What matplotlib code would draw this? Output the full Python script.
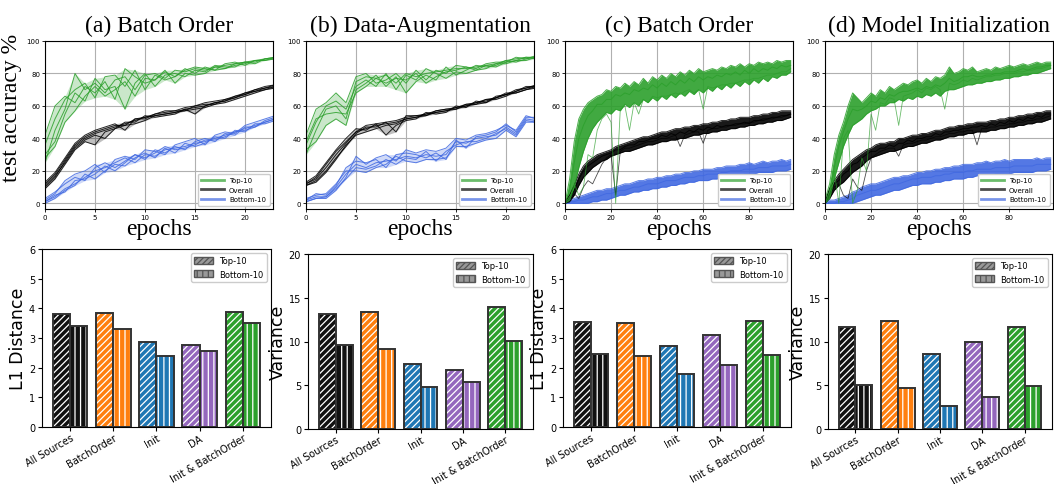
import numpy as np
import matplotlib
matplotlib.use("Agg")
import matplotlib.pyplot as plt
from matplotlib.lines import Line2D
from matplotlib.patches import Patch

# ---- top row: test accuracy curves ----
epochs_short = list(range(24))
epochs_long = list(range(0, 100, 2))

a_top = [
    [25, 45, 58, 80, 70, 74, 68, 76, 78, 70, 79, 80, 77, 82, 81, 83, 82, 84, 85, 86, 87, 88, 89, 90],
    [42, 60, 66, 62, 72, 68, 75, 64, 83, 78, 74, 76, 81, 78, 83, 80, 84, 82, 83, 85, 86, 88, 88, 89],
    [30, 38, 55, 68, 63, 77, 70, 72, 58, 74, 80, 72, 79, 80, 78, 82, 81, 85, 84, 84, 87, 87, 89, 90],
    [36, 52, 64, 70, 74, 65, 78, 79, 72, 82, 70, 79, 76, 78, 82, 84, 83, 82, 86, 87, 85, 88, 88, 90],
    [28, 35, 50, 57, 66, 72, 66, 70, 75, 66, 77, 76, 82, 74, 80, 79, 80, 84, 83, 86, 87, 86, 89, 89],
]
a_all = [
    [10, 16, 26, 35, 40, 43, 45, 47, 49, 51, 53, 54, 55, 56, 58, 59, 60, 62, 63, 65, 67, 69, 71, 72],
    [12, 18, 27, 36, 41, 44, 46, 48, 48, 52, 52, 55, 56, 57, 57, 60, 61, 61, 64, 65, 68, 69, 70, 72],
    [9, 15, 24, 33, 38, 36, 44, 46, 50, 50, 54, 53, 54, 55, 58, 55, 60, 62, 63, 66, 67, 70, 71, 73],
    [13, 19, 28, 37, 42, 45, 47, 49, 45, 52, 53, 55, 57, 57, 59, 60, 62, 63, 64, 66, 68, 70, 72, 73],
    [11, 17, 25, 34, 39, 42, 40, 46, 48, 49, 51, 54, 55, 56, 57, 58, 59, 61, 62, 64, 66, 68, 70, 71],
]
a_bottom = [
    [1, 4, 9, 12, 16, 20, 22, 25, 28, 25, 30, 29, 33, 34, 35, 37, 38, 40, 42, 44, 46, 48, 50, 52],
    [3, 7, 12, 16, 14, 22, 25, 22, 26, 30, 27, 33, 31, 35, 33, 38, 40, 38, 43, 42, 47, 47, 51, 53],
    [0, 3, 8, 11, 18, 15, 20, 24, 23, 28, 31, 28, 34, 31, 37, 35, 37, 41, 40, 45, 44, 49, 49, 51],
    [2, 6, 14, 18, 20, 24, 19, 27, 29, 27, 33, 32, 30, 36, 38, 40, 36, 42, 44, 43, 48, 50, 52, 54],
    [1, 5, 7, 14, 15, 18, 23, 20, 25, 30, 28, 31, 35, 33, 34, 36, 39, 39, 41, 44, 45, 47, 50, 52],
]

b_top = [
    [30, 45, 58, 60, 52, 75, 78, 77, 79, 74, 80, 78, 80, 81, 82, 83, 83, 84, 85, 86, 88, 89, 90, 90],
    [42, 58, 62, 68, 62, 78, 80, 74, 76, 80, 74, 82, 76, 82, 80, 85, 84, 83, 86, 87, 87, 90, 89, 91],
    [33, 38, 48, 52, 48, 70, 74, 79, 72, 78, 68, 75, 79, 76, 84, 79, 82, 85, 84, 85, 88, 87, 89, 90],
    [36, 50, 60, 63, 58, 72, 76, 72, 80, 70, 79, 76, 83, 80, 77, 81, 80, 82, 83, 86, 86, 88, 90, 89],
    [38, 52, 55, 56, 55, 68, 72, 77, 74, 77, 76, 80, 74, 78, 81, 82, 84, 82, 85, 84, 87, 88, 88, 90],
]
b_all = [
    [12, 15, 22, 30, 37, 44, 46, 48, 49, 50, 52, 53, 55, 56, 57, 59, 60, 62, 63, 65, 67, 69, 71, 72],
    [11, 14, 20, 28, 35, 43, 47, 47, 50, 51, 53, 54, 54, 57, 58, 58, 61, 61, 64, 65, 68, 68, 70, 72],
    [13, 17, 25, 33, 40, 46, 45, 49, 42, 48, 51, 52, 56, 55, 56, 60, 59, 63, 62, 66, 67, 70, 71, 73],
    [12, 16, 24, 32, 38, 44, 48, 49, 50, 44, 54, 54, 55, 57, 58, 59, 61, 62, 64, 64, 66, 69, 72, 72],
    [11, 13, 19, 27, 36, 42, 44, 46, 48, 49, 52, 53, 54, 56, 57, 58, 60, 61, 62, 65, 67, 68, 70, 71],
]
b_bottom = [
    [2, 4, 4, 10, 18, 24, 22, 25, 26, 27, 29, 28, 30, 29, 30, 38, 37, 40, 41, 42, 47, 43, 52, 51],
    [1, 3, 3, 8, 16, 29, 24, 28, 30, 26, 33, 31, 33, 32, 34, 40, 39, 42, 43, 45, 48, 45, 54, 52],
    [3, 5, 6, 12, 20, 20, 19, 22, 24, 29, 26, 25, 27, 27, 28, 35, 35, 37, 39, 40, 45, 41, 50, 50],
    [2, 6, 5, 11, 22, 26, 25, 27, 22, 30, 31, 30, 28, 31, 27, 39, 34, 41, 42, 44, 49, 44, 53, 53],
    [1, 3, 4, 9, 15, 22, 21, 23, 27, 24, 28, 27, 32, 26, 32, 36, 38, 38, 40, 43, 46, 42, 51, 50],
]

c_top = [
    [0, 15, 38, 52, 58, 62, 64, 66, 67, 70, 69, 72, 71, 74, 72, 75, 73, 77, 74, 78, 76, 79, 77, 80, 78,
     81, 79, 82, 80, 83, 81, 82, 83, 82, 84, 83, 85, 84, 86, 84, 86, 85, 87, 86, 87, 86, 88, 87, 88, 88],
    [0, 8, 25, 40, 48, 54, 57, 61, 61, 64, 64, 67, 66, 68, 67, 70, 69, 71, 70, 73, 71, 74, 72, 75, 73,
     76, 74, 77, 75, 78, 76, 78, 77, 79, 78, 80, 79, 81, 79, 82, 80, 83, 81, 83, 82, 84, 83, 85, 84, 85],
    [0, 2, 10, 22, 32, 40, 46, 50, 53, 56, 55, 58, 57, 61, 59, 62, 60, 64, 62, 65, 63, 66, 64, 67, 65,
     68, 66, 69, 67, 70, 68, 71, 69, 72, 70, 73, 71, 74, 72, 75, 73, 76, 74, 77, 75, 78, 77, 79, 79, 81],
]
c_top_dip = [0, 3, 12, 5, 10, 30, 28, 45, 52, 55, 50, 0, 58, 60, 45, 62, 55, 64, 62, 66, 65, 66, 66, 67, 68,
             67, 69, 70, 68, 70, 58, 72, 71, 72, 73, 73, 74, 74, 75, 76, 76, 77, 77, 78, 79, 79, 80, 81, 81, 83]
c_all = [
    [1, 5, 11, 18, 23, 26, 28, 30, 31, 32, 33, 35, 36, 37, 38, 39, 40, 41, 41, 42, 43, 44, 44, 45, 46,
     46, 47, 47, 48, 48, 49, 49, 50, 50, 51, 51, 52, 52, 53, 53, 53, 54, 54, 55, 55, 56, 56, 57, 57, 57],
    [0, 3, 8, 15, 20, 23, 25, 27, 29, 30, 31, 33, 33, 35, 36, 36, 38, 38, 39, 40, 40, 42, 41, 43, 42,
     44, 43, 45, 44, 46, 45, 47, 46, 48, 47, 48, 48, 49, 49, 50, 49, 51, 51, 52, 52, 53, 53, 54, 54, 55],
    [0, 1, 5, 11, 16, 19, 22, 24, 26, 27, 29, 30, 31, 32, 32, 33, 34, 35, 36, 36, 37, 38, 38, 39, 39,
     40, 40, 41, 42, 42, 43, 43, 44, 44, 45, 45, 46, 46, 47, 47, 48, 48, 49, 49, 50, 50, 51, 51, 52, 53],
]
c_all_dip = [0, 2, 6, 3, 10, 14, 12, 18, 24, 28, 30, 5, 32, 34, 34, 35, 36, 37, 38, 38, 39, 40, 40, 41, 42,
             35, 42, 43, 44, 44, 37, 45, 46, 46, 47, 47, 48, 48, 49, 49, 50, 50, 51, 51, 52, 52, 53, 53, 54, 55]
c_bottom = [
    [1, 2, 3, 4, 5, 6, 7, 8, 8, 9, 9, 10, 11, 12, 12, 13, 14, 14, 15, 15, 16, 16, 17, 17, 18,
     18, 19, 19, 20, 20, 21, 21, 21, 22, 22, 23, 23, 23, 24, 24, 25, 24, 25, 26, 25, 26, 26, 27, 26, 27],
    [0, 1, 1, 2, 2, 3, 4, 4, 5, 6, 6, 7, 8, 8, 9, 10, 10, 11, 12, 12, 12, 13, 14, 14, 14,
     15, 16, 16, 16, 17, 17, 18, 18, 18, 19, 19, 20, 20, 20, 21, 21, 21, 22, 22, 22, 23, 23, 23, 23, 24],
    [0, 0, 0, 0, 0, 0, 1, 1, 2, 2, 3, 4, 5, 5, 6, 7, 7, 8, 8, 9, 9, 10, 10, 11, 11,
     12, 12, 13, 13, 14, 14, 14, 15, 15, 16, 16, 17, 17, 17, 18, 18, 18, 19, 19, 19, 19, 20, 20, 20, 21],
]

d_top = [
    [2, 12, 30, 42, 50, 60, 68, 65, 62, 65, 68, 66, 70, 68, 72, 70, 72, 74, 73, 75, 76, 74, 77, 75, 78,
     77, 79, 84, 80, 81, 83, 82, 84, 81, 82, 83, 82, 84, 83, 84, 85, 84, 85, 86, 85, 86, 87, 86, 87, 87],
    [0, 7, 22, 35, 44, 52, 58, 57, 58, 60, 63, 62, 65, 64, 67, 66, 68, 69, 69, 70, 71, 70, 72, 71, 73,
     72, 74, 77, 75, 76, 78, 78, 79, 78, 78, 79, 79, 80, 80, 81, 81, 81, 82, 83, 82, 83, 84, 84, 85, 85],
    [0, 3, 15, 25, 35, 42, 48, 50, 52, 55, 57, 58, 60, 60, 62, 62, 64, 63, 65, 64, 66, 65, 67, 66, 68,
     66, 69, 70, 70, 71, 72, 73, 73, 74, 74, 75, 75, 76, 76, 77, 77, 78, 78, 79, 79, 80, 80, 81, 82, 83],
]
d_top_dip = [0, 5, 20, 0, 40, 45, 0, 8, 28, 20, 55, 45, 62, 61, 65, 64, 48, 66, 67, 68, 70, 68, 71, 70, 72,
             70, 58, 74, 73, 74, 76, 75, 77, 76, 77, 78, 78, 79, 79, 80, 80, 80, 81, 81, 82, 82, 83, 83, 84, 85]
d_all = [
    [1, 9, 14, 18, 21, 24, 27, 29, 31, 33, 34, 36, 37, 37, 38, 38, 40, 40, 41, 42, 42, 43, 43, 44, 45,
     45, 46, 47, 47, 48, 48, 49, 49, 50, 50, 50, 51, 51, 52, 52, 53, 53, 54, 54, 55, 55, 56, 56, 57, 57],
    [0, 6, 12, 14, 18, 20, 24, 25, 28, 30, 32, 32, 34, 34, 36, 35, 37, 37, 39, 38, 40, 40, 41, 41, 43,
     42, 44, 44, 45, 45, 46, 46, 47, 47, 48, 47, 49, 48, 50, 49, 51, 50, 52, 51, 53, 52, 54, 53, 55, 55],
    [0, 3, 8, 11, 13, 16, 19, 21, 23, 26, 28, 29, 30, 31, 32, 32, 33, 34, 35, 35, 36, 37, 37, 38, 39,
     39, 40, 41, 41, 42, 42, 43, 43, 44, 44, 44, 45, 45, 46, 46, 47, 47, 48, 48, 49, 49, 50, 50, 51, 52],
]
d_all_dip = [0, 5, 10, 12, 5, 3, 15, 10, 8, 20, 28, 30, 32, 33, 34, 34, 29, 36, 37, 37, 38, 39, 39, 40, 41,
             41, 42, 43, 43, 44, 44, 45, 45, 36, 46, 46, 47, 47, 48, 48, 49, 49, 50, 50, 51, 51, 52, 52, 53, 54]
d_bottom = [
    [1, 2, 2, 3, 4, 5, 7, 8, 10, 11, 12, 12, 13, 14, 15, 16, 16, 17, 17, 18, 19, 19, 20, 20, 21,
     21, 22, 22, 23, 23, 24, 24, 24, 25, 25, 26, 25, 26, 26, 27, 26, 27, 27, 27, 27, 27, 28, 27, 28, 28],
    [0, 0, 0, 1, 1, 2, 3, 5, 6, 7, 8, 8, 9, 10, 11, 12, 12, 13, 14, 15, 15, 16, 16, 16, 17,
     17, 18, 18, 19, 19, 19, 20, 20, 21, 21, 21, 21, 22, 22, 22, 22, 23, 23, 23, 23, 23, 24, 24, 24, 24],
    [0, 0, 0, 0, 0, 0, 0, 1, 2, 3, 4, 5, 5, 6, 7, 8, 8, 9, 10, 11, 11, 12, 12, 12, 13,
     13, 14, 14, 15, 15, 15, 16, 16, 17, 17, 17, 17, 18, 18, 18, 18, 19, 19, 19, 19, 19, 20, 20, 20, 21],
]

# ---- bottom row: bar charts ----
sources = ["All Sources", "BatchOrder", "Init", "DA", "Init & BatchOrder"]
a_l1_top = [3.80, 3.85, 2.85, 2.76, 3.88]
a_l1_bottom = [3.40, 3.32, 2.40, 2.55, 3.50]
b_var_top = [13.1, 13.4, 7.4, 6.8, 13.9]
b_var_bottom = [9.6, 9.2, 4.8, 5.4, 10.1]
c_l1_top = [3.55, 3.52, 2.72, 3.10, 3.57]
c_l1_bottom = [2.47, 2.40, 1.77, 2.10, 2.43]
d_var_top = [11.7, 12.3, 8.6, 10.0, 11.7]
d_var_bottom = [5.0, 4.7, 2.6, 3.7, 4.9]

titles = ["(a) Batch Order", "(b) Data-Augmentation", "(c) Batch Order", "(d) Model Initialization"]

GREEN = "#2ca02c"
BLUE = "#4169e1"
BLACK = "black"
bar_colors = ["#111111", "#ff7f0e", "#1f77b4", "#9467bd", "#2ca02c"]
SERIF = ["Liberation Serif", "DejaVu Serif"]

W, H = 1054, 485
fig = plt.figure(figsize=(W / 100, H / 100), dpi=100)
plt.rcParams["hatch.linewidth"] = 0.9


def px_axes(left, top, width, height):
    return fig.add_axes([left / W, 1 - (top + height) / H, width / W, height / H])


def curves(ax, x, runs, color, dip=None, fill_alpha=0.35):
    arr = np.array(runs, dtype=float)
    ax.fill_between(x, arr.min(axis=0), arr.max(axis=0), color=color, alpha=fill_alpha, lw=0)
    for r in runs:
        ax.plot(x, r, color=color, lw=0.7, alpha=0.85)
    if dip is not None:
        ax.plot(x, dip, color=color, lw=0.6, alpha=0.7)


top_data = [
    (epochs_short, a_top, a_all, a_bottom, None, None),
    (epochs_short, b_top, b_all, b_bottom, None, None),
    (epochs_long, c_top, c_all, c_bottom, c_top_dip, c_all_dip),
    (epochs_long, d_top, d_all, d_bottom, d_top_dip, d_all_dip),
]
top_lefts = [45, 306, 565, 825]

for i, (x, top, allr, bot, tdip, adip) in enumerate(top_data):
    ax = px_axes(top_lefts[i], 42, 228, 168)
    dense = x is epochs_long
    fa = 0.9 if dense else 0.25
    curves(ax, x, bot, BLUE, fill_alpha=fa)
    curves(ax, x, allr, BLACK, adip, fill_alpha=fa)
    curves(ax, x, top, GREEN, tdip, fill_alpha=fa)
    ax.set_xlim(0, 99 if dense else 22.8)
    ax.set_ylim(-3.5, 100)
    ax.set_yticks([0, 20, 40, 60, 80, 100])
    ax.set_xticks([0, 20, 40, 60, 80] if dense else [0, 5, 10, 15, 20])
    ax.grid(True, color="#b0b0b0", lw=0.8)
    ax.set_axisbelow(True)
    ax.tick_params(labelsize=5, length=2, width=0.6, pad=1.5)
    ax.set_title(titles[i], family=SERIF, fontsize=17, pad=7)
    ax.set_xlabel("epochs", family=SERIF, fontsize=17, labelpad=-1)
    if i == 0:
        ax.set_ylabel("test accuracy %", family=SERIF, fontsize=17)
        ax.yaxis.set_label_coords(-0.1, 0.61)
    handles = [Line2D([], [], color=GREEN, lw=2, alpha=0.7),
               Line2D([], [], color=BLACK, lw=2, alpha=0.7),
               Line2D([], [], color=BLUE, lw=2, alpha=0.7)]
    ax.legend(handles, ["Top-10", "Overall", "Bottom-10"], loc="lower right",
              fontsize=5, handlelength=3.2, framealpha=1, borderpad=0.5,
              labelspacing=0.5)

bar_data = [
    (a_l1_top, a_l1_bottom, "L1 Distance", 6, 1),
    (b_var_top, b_var_bottom, "Variance", 20, 5),
    (c_l1_top, c_l1_bottom, "L1 Distance", 6, 1),
    (d_var_top, d_var_bottom, "Variance", 20, 5),
]
bar_boxes = [(42, 250, 229, 178), (308, 255, 225, 175), (563, 250, 228, 178), (828, 255, 224, 175)]

xpos = np.arange(len(sources))
for i, (tv, bv, ylab, ymax, step) in enumerate(bar_data):
    ax = px_axes(*bar_boxes[i])
    ax.bar(xpos - 0.2, tv, 0.4, color=bar_colors, edgecolor="white", hatch="/////", lw=0)
    ax.bar(xpos - 0.2, tv, 0.4, fill=False, edgecolor="#333333", lw=1.4)
    ax.bar(xpos + 0.2, bv, 0.4, color=bar_colors, edgecolor="white", hatch="|||", lw=0)
    ax.bar(xpos + 0.2, bv, 0.4, fill=False, edgecolor="#333333", lw=1.4)
    ax.set_xlim(-0.65, 4.65)
    ax.set_ylim(0, ymax)
    ax.set_yticks(np.arange(0, ymax + step, step))
    ax.set_xticks(xpos)
    ax.set_xticklabels(sources, rotation=30, ha="right", rotation_mode="anchor")
    ax.tick_params(axis="x", labelsize=7, length=3, pad=1)
    ax.tick_params(axis="y", labelsize=7, length=3, pad=2)
    ax.set_ylabel(ylab, fontsize=12.5, labelpad=1.5)
    handles = [Patch(facecolor="#999999", edgecolor="#555555", hatch="//////"),
               Patch(facecolor="#999999", edgecolor="#555555", hatch="|||")]
    ax.legend(handles, ["Top-10", "Bottom-10"], loc="upper right", fontsize=6,
              handlelength=2.2, handleheight=0.9, framealpha=1)

fig.savefig("out.png", dpi=100)
